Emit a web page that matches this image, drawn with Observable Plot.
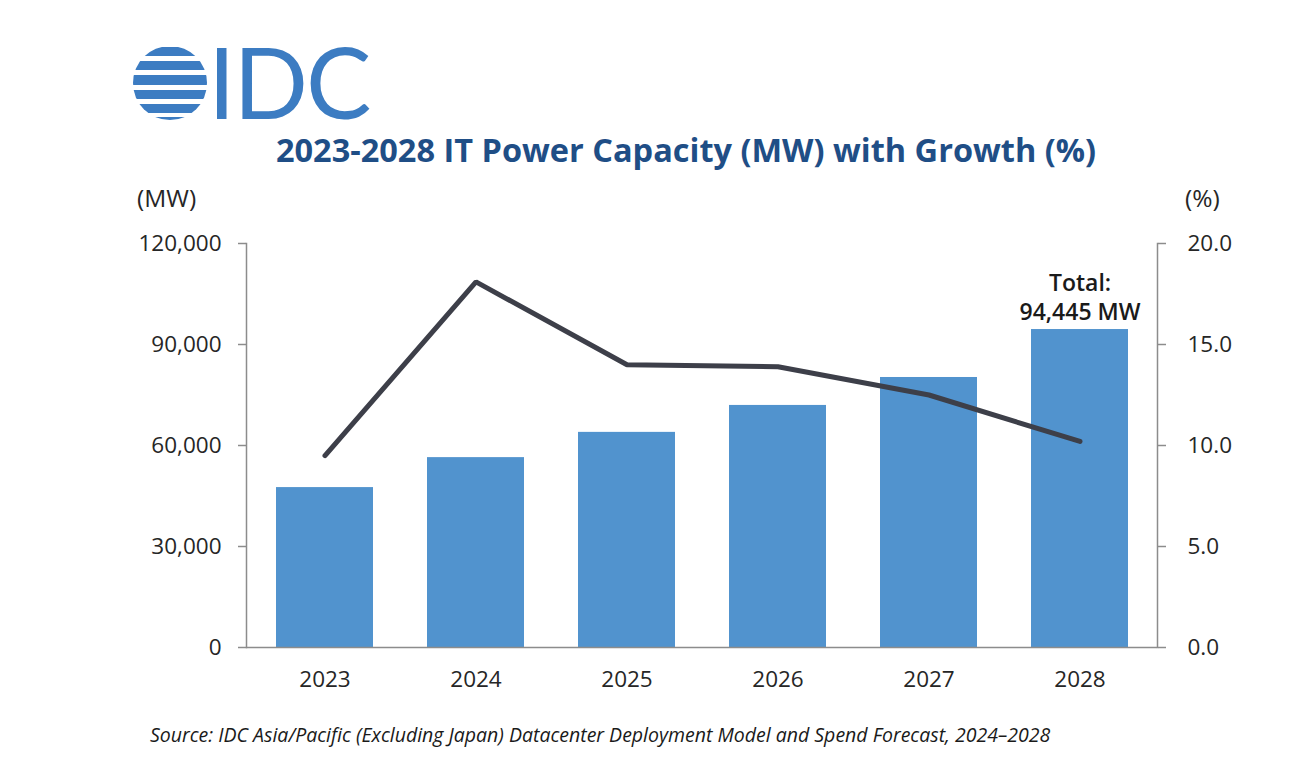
<!DOCTYPE html>
<html>
<head>
<meta charset="utf-8">
<script src="https://cdn.jsdelivr.net/npm/d3@7"></script>
<script src="https://cdn.jsdelivr.net/npm/@observablehq/plot@0.6"></script>
<style>
  html, body { margin: 0; padding: 0; background: #ffffff; }
  body { width: 1311px; height: 780px; position: relative; overflow: hidden; font-family: "Open Sans", sans-serif; }
  .abs { position: absolute; white-space: nowrap; }
  #title { left: 0; width: 1372px; top: 127px; text-align: center; font-size: 32.5px; font-weight: 700; color: #1f4e86; }
  #logo-text { left: 208px; top: 22px; font-family: Lato, sans-serif; font-size: 98px; color: #3c7cc2; letter-spacing: -2px; }
  .unit { top: 181px; font-size: 24.5px; color: #262626; }
  #source { left: 150px; top: 721px; font-size: 19.5px; font-style: italic; color: #1a1a1a; }
  #chart { position: absolute; left: 0; top: 170px; }
</style>
</head>
<body>
<svg class="abs" style="left:130px;top:43px" width="80" height="80" viewBox="0 0 80 80">
  <defs><clipPath id="globe"><circle cx="40" cy="40" r="37"/></clipPath></defs>
  <g clip-path="url(#globe)" fill="#3c7cc2">
    <rect x="0" y="4" width="80" height="9"/>
    <rect x="0" y="18" width="80" height="9"/>
    <rect x="0" y="32" width="80" height="10"/>
    <rect x="0" y="47" width="80" height="9"/>
    <rect x="0" y="61" width="80" height="9"/>
    <rect x="0" y="74" width="80" height="6"/>
  </g>
</svg>
<div id="logo-text" class="abs">IDC</div>
<div id="title" class="abs">2023-2028 IT Power Capacity (MW) with Growth (%)</div>
<div class="abs unit" style="left:137px">(MW)</div>
<div class="abs unit" style="left:1185px">(%)</div>
<div id="chart"></div>
<div id="source" class="abs">Source: IDC Asia/Pacific (Excluding Japan) Datacenter Deployment Model and Spend Forecast, 2024–2028</div>
<script>
const years = ["2023", "2024", "2025", "2026", "2027", "2028"];
const capacityMW = [47500, 56400, 63900, 71900, 80200, 94445];
const growthPct = [9.5, 18.1, 14.0, 13.9, 12.5, 10.2];
const leftTicks = [0, 30000, 60000, 90000, 120000];
const rightTicks = [0, 5, 10, 15, 20];
const totalLabel = ["Total:", "94,445 MW"];

const pctToMW = 120000 / 20; // right axis 0–20% shares the left 0–120,000 range

const rows = years.map((y, i) => ({year: y, mw: capacityMW[i], growth: growthPct[i]}));
const last = rows[rows.length - 1];

const axisColor = "#8c8c8c";
const textColor = "#262626";

const chart = Plot.plot({
  width: 1311,
  height: 530,
  marginLeft: 246,
  marginRight: 154,
  marginTop: 73,
  marginBottom: 53,
  style: {fontFamily: "'Open Sans', sans-serif", fontSize: "22px", color: textColor, background: "transparent"},
  x: {domain: years, paddingInner: 0.36, paddingOuter: 0.18},
  y: {domain: [0, 120000]},
  marks: [
    Plot.barY(rows, {x: "year", y: "mw", fill: "#5193ce"}),
    Plot.frame({anchor: "left", stroke: axisColor, strokeWidth: 1.5}),
    Plot.frame({anchor: "right", stroke: axisColor, strokeWidth: 1.5}),
    Plot.ruleY([0], {stroke: axisColor, strokeWidth: 1.5}),
    Plot.axisY(leftTicks, {anchor: "left", tickSize: 8, tickPadding: 17, stroke: axisColor, strokeWidth: 1.5, fill: textColor, fontSize: 22.5,
      tickFormat: d => d3.format(",")(d), label: null}),
    Plot.axisY(rightTicks.map(d => d * pctToMW), {anchor: "right", tickSize: 8, tickPadding: 22, stroke: axisColor, strokeWidth: 1.5, fill: textColor, fontSize: 22.5,
      tickFormat: d => (d / pctToMW).toFixed(1), label: null}),
    Plot.axisX(years, {anchor: "bottom", tickSize: 0, tickPadding: 24, fill: textColor, fontSize: 22.5, label: null}),
    Plot.line(rows, {x: "year", y: d => d.growth * pctToMW, stroke: "#3d3f49", strokeWidth: 5, strokeLinejoin: "miter"}),
    Plot.text([last], {x: "year", y: "mw", text: () => totalLabel[0], dy: -46, fontWeight: 600, fontSize: 23, fill: "#1a1a1a"}),
    Plot.text([last], {x: "year", y: "mw", text: () => totalLabel[1], dy: -17, fontWeight: 600, fontSize: 23, fill: "#1a1a1a"})
  ]
});
document.getElementById("chart").appendChild(chart);
</script>
</body>
</html>
